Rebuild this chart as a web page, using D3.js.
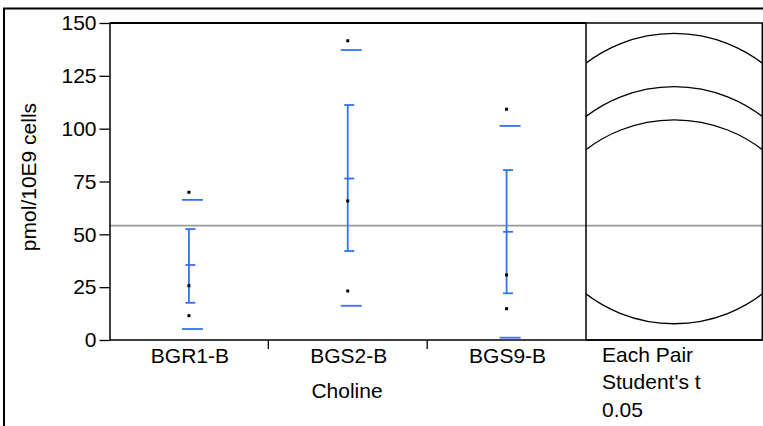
<!DOCTYPE html>
<html>
<head>
<meta charset="utf-8">
<script src="https://cdn.jsdelivr.net/npm/d3@7"></script>
<style>
  html, body { margin: 0; padding: 0; background: #fff; }
  svg { display: block; }
  text { font-family: "Liberation Sans", Arial, sans-serif; fill: #000; }
</style>
</head>
<body>
<svg id="chart" width="763" height="426"></svg>
<script>
// ---- data ----
const categories = ["BGR1-B", "BGS2-B", "BGS9-B"];
const points = [
  [69.9, 25.7, 11.5],
  [141.6, 65.8, 23.2],
  [109.2, 30.8, 14.8]
];
const means = [35.5, 76.4, 51.2];
const seUpper = [52.5, 111.2, 80.4];
const seLower = [17.6, 42.1, 22.1];
const sdUpper = [66.3, 137.2, 101.3];
const sdLower = [5.2, 16.2, 1.1];
const grandMean = 54.1;
const circleRadius = 68.7;
const yTicks = [0, 25, 50, 75, 100, 125, 150];
const xTitle = "Choline";
const yTitle = "pmol/10E9 cells";
const circleLabels = ["Each Pair", "Student's t", "0.05"];

// ---- layout ----
const svg = d3.select("#chart");
const plotL = 109.5, plotR = 586, plotT = 23, plotB = 340;
const panelR = 762.3;
const blue = "#3272f2";
const fs = 21;

const y = d3.scaleLinear().domain([0, 150]).range([plotB, plotT]);
const x = d3.scaleBand().domain(categories).range([plotL, plotR]).padding(0);
const pxPerUnit = (plotB - plotT) / 150;
const halfUnits = (panelR - plotR) / 2 / pxPerUnit;
const xc = d3.scaleLinear().domain([-halfUnits, halfUnits]).range([plotR, panelR]);

// outer frame
svg.append("rect").attr("x", 4).attr("y", 8.5).attr("width", 800).attr("height", 500)
  .attr("fill", "none").attr("stroke", "#000").attr("stroke-width", 2);

// clip for circles
svg.append("defs").append("clipPath").attr("id", "pclip")
  .append("rect").attr("x", plotR).attr("y", plotT).attr("width", panelR - plotR).attr("height", plotB - plotT);

// grand mean line
svg.append("line").attr("x1", plotL).attr("x2", panelR)
  .attr("y1", y(grandMean)).attr("y2", y(grandMean))
  .attr("stroke", "#999").attr("stroke-width", 1.6);

// comparison circles
svg.append("g").attr("clip-path", "url(#pclip)")
  .selectAll("circle").data(means).join("circle")
  .attr("cx", xc(0)).attr("cy", d => y(d))
  .attr("r", y(0) - y(circleRadius))
  .attr("fill", "none").attr("stroke", "#000").attr("stroke-width", 1.3);

// panel box and plot borders
svg.append("rect").attr("x", plotR).attr("y", plotT).attr("width", panelR - plotR).attr("height", plotB - plotT)
  .attr("fill", "none").attr("stroke", "#000").attr("stroke-width", 1.5);
svg.append("line").attr("x1", plotL).attr("x2", plotR).attr("y1", plotT).attr("y2", plotT)
  .attr("stroke", "#000").attr("stroke-width", 1.8);

// y axis
const yAxis = d3.axisLeft(y).tickValues(yTicks).tickSize(10).tickPadding(3).tickSizeOuter(0);
const gy = svg.append("g").attr("transform", `translate(${plotL},0)`).call(yAxis);
gy.select(".domain").attr("stroke", "#000").attr("stroke-width", 1.5);
gy.selectAll(".tick line").attr("stroke", "#000").attr("stroke-width", 1.3);
gy.selectAll(".tick text").attr("font-size", fs).attr("font-family", "Liberation Sans, Arial, sans-serif").attr("fill", "#000");

// x axis line
svg.append("line").attr("x1", plotL).attr("x2", panelR).attr("y1", plotB).attr("y2", plotB)
  .attr("stroke", "#000").attr("stroke-width", 1.5);
// category boundary ticks
svg.selectAll("line.ctick").data(categories.slice(1)).join("line").attr("class", "ctick")
  .attr("x1", d => x(d)).attr("x2", d => x(d)).attr("y1", plotB).attr("y2", plotB + 9)
  .attr("stroke", "#000").attr("stroke-width", 1.3);
// category labels
svg.selectAll("text.cat").data(categories).join("text").attr("class", "cat")
  .attr("x", d => x(d) + x.bandwidth() / 2 + 1).attr("y", 363)
  .attr("text-anchor", "middle").attr("font-size", fs).text(d => d);

// axis titles
svg.append("text").attr("x", 347).attr("y", 398).attr("text-anchor", "middle")
  .attr("font-size", fs).text(xTitle);
svg.append("text").attr("transform", "translate(36,177) rotate(-90)")
  .attr("text-anchor", "middle").attr("font-size", fs).text(yTitle);

// circle panel labels
svg.selectAll("text.cl").data(circleLabels).join("text").attr("class", "cl")
  .attr("x", 602).attr("y", (d, i) => 362 + i * 27.3)
  .attr("font-size", fs).text(d => d);

// groups: error bars, sd lines, points
const g = svg.append("g");
categories.forEach((c, i) => {
  const cx = x(c) + x.bandwidth() / 2;
  g.append("line").attr("x1", cx).attr("x2", cx).attr("y1", y(seUpper[i])).attr("y2", y(seLower[i]))
    .attr("stroke", blue).attr("stroke-width", 1.8);
  [seUpper[i], means[i], seLower[i]].forEach(v => {
    g.append("line").attr("x1", cx - 3.5).attr("x2", cx + 6.5).attr("y1", y(v)).attr("y2", y(v))
      .attr("stroke", blue).attr("stroke-width", 1.8);
  });
  [sdUpper[i], sdLower[i]].forEach(v => {
    g.append("line").attr("x1", cx - 7).attr("x2", cx + 14).attr("y1", y(v)).attr("y2", y(v))
      .attr("stroke", blue).attr("stroke-width", 1.8);
  });
  g.selectAll(null).data(points[i]).join("rect")
    .attr("x", cx - 1.5).attr("y", d => y(d) - 1.5).attr("width", 3).attr("height", 3)
    .attr("fill", "#000");
});
</script>
</body>
</html>
